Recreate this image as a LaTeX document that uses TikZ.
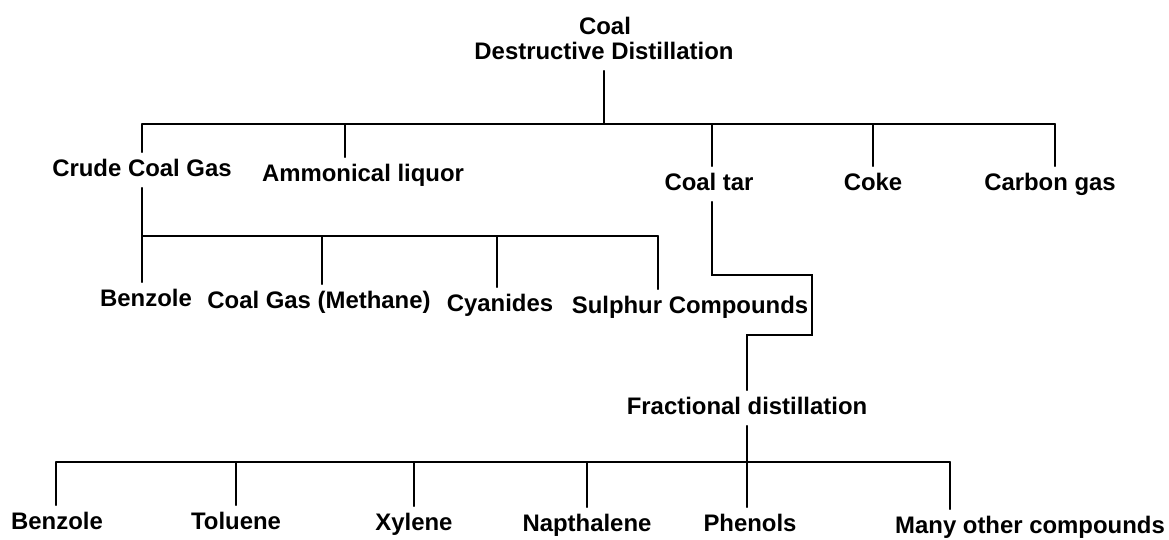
\documentclass[tikz,border=0pt]{standalone}
\usepackage{fontspec}
\setmainfont{Liberation Sans}
\newcommand{\lblfont}{\fontsize{17pt}{18pt}\selectfont\bfseries}

\begin{document}
\begin{tikzpicture}[x=0.025cm, y=-0.025cm,
    lbl/.style={font=\lblfont, inner sep=4pt, text height=13pt, text depth=4pt},
    link/.style={line width=1.2pt, line cap=round}]
    \useasboundingbox (0,0) rectangle (1169,539);

    % source
    \node [lbl] (coal) at (605,28) {Coal};
    \node [lbl] (destill) at (604,53) {Destructive Distillation};

    % first products
    \node [lbl] (crude) at (142,170) {Crude Coal Gas};
    \node [lbl] (ammon) at (363,175) {Ammonical liquor};
    \node [lbl] (tar) at (709,184) {Coal tar};
    \node [lbl] (coke) at (873,184) {Coke};
    \node [lbl] (carbon) at (1050,184) {Carbon gas};

    % from crude coal gas
    \node [lbl] (benzolA) at (146,300) {Benzole};
    \node [lbl] (methane) at (319,302) {Coal Gas (Methane)};
    \node [lbl] (cyan) at (500,305) {Cyanides};
    \node [lbl] (sulph) at (690,307) {Sulphur Compounds};

    % from coal tar
    \node [lbl] (frac) at (747,408) {Fractional distillation};
    \node [lbl] (benzolB) at (57,523) {Benzole};
    \node [lbl] (toluene) at (236,523) {Toluene};
    \node [lbl] (xylene) at (414,524) {Xylene};
    \node [lbl] (naph) at (587,525) {Napthalene};
    \node [lbl] (phenol) at (750,525) {Phenols};
    \node [lbl] (many) at (1030,527) {Many other compounds};

    % junctions
    \coordinate (top) at (604,124);
    \coordinate (m1) at (142,124);
    \coordinate (m2) at (345,124);
    \coordinate (m3) at (712,124);
    \coordinate (m4) at (873,124);
    \coordinate (m5) at (1055,124);

    \coordinate (c1) at (142,236);
    \coordinate (c2) at (322,236);
    \coordinate (c3) at (497,236);
    \coordinate (c4) at (658,236);

    \coordinate (s1) at (812,275);
    \coordinate (s2) at (812,335);

    \coordinate (f1) at (56,462);
    \coordinate (f2) at (236,462);
    \coordinate (f3) at (414,462);
    \coordinate (f4) at (587,462);
    \coordinate (f5) at (748,462);
    \coordinate (f6) at (950,462);

    % main bar
    \draw [link] (destill.south) -- (top);
    \draw [link] (m1) -- (m5);
    \foreach \j/\n in {m1/crude, m2/ammon, m3/tar, m4/coke, m5/carbon}
        \draw [link] (\j) -- (\j |- \n.north);

    % crude coal gas bar
    \draw [link] (crude.south) -- (c1) -- (c4);
    \foreach \j/\n in {c1/benzolA, c2/methane, c3/cyan, c4/sulph}
        \draw [link] (\j) -- (\j |- \n.north);

    % coal tar to fractional distillation
    \draw [link] (tar.south -| m3) |- (s1) -- (s2) -| (frac.north);

    % fractional distillation bar
    \draw [link] (frac.south) -- (frac.south |- phenol.north);
    \draw [link] (f1) -- (f6);
    \foreach \j/\n in {f1/benzolB, f2/toluene, f3/xylene, f4/naph, f6/many}
        \draw [link] (\j) -- (\j |- \n.north);
\end{tikzpicture}
\end{document}
